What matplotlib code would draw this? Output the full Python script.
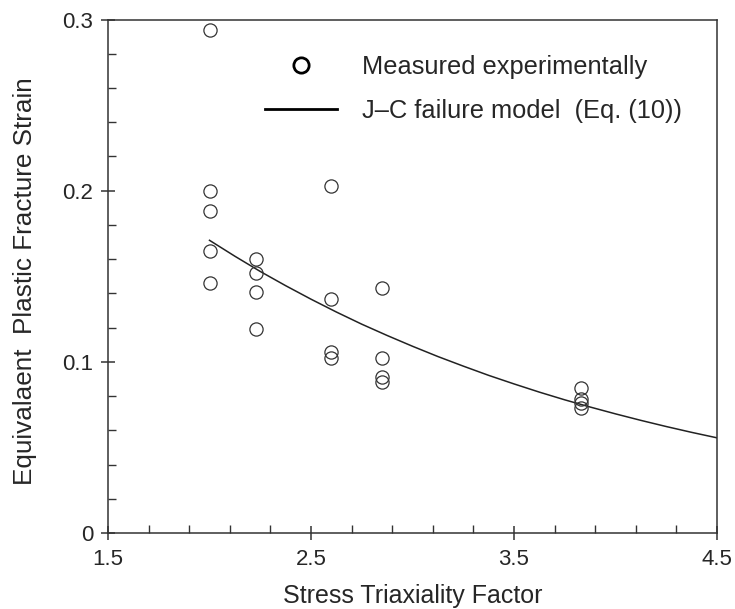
import matplotlib
matplotlib.use("Agg")
import matplotlib.pyplot as plt
from matplotlib.lines import Line2D
from matplotlib.ticker import MultipleLocator

# Measured data (stress triaxiality, fracture strain)
meas_x = [2.0, 2.0, 2.0, 2.0, 2.0,
          2.23, 2.23, 2.23, 2.23,
          2.6, 2.6, 2.6, 2.6,
          2.85, 2.85, 2.85, 2.85,
          3.83, 3.83, 3.83, 3.83]
meas_y = [0.294, 0.200, 0.188, 0.165, 0.146,
          0.160, 0.152, 0.141, 0.119,
          0.203, 0.137, 0.106, 0.102,
          0.143, 0.102, 0.091, 0.088,
          0.085, 0.078, 0.076, 0.073]

# J-C failure model curve
model_x = [2.0, 2.125, 2.25, 2.375, 2.5, 2.625, 2.75, 2.875, 3.0, 3.125, 3.25,
           3.375, 3.5, 3.625, 3.75, 3.875, 4.0, 4.125, 4.25, 4.375, 4.5]
model_y = [0.171, 0.1617, 0.1528, 0.1445, 0.1366, 0.1291, 0.1220, 0.1154, 0.1091,
           0.1031, 0.0975, 0.0921, 0.0871, 0.0823, 0.0778, 0.0736, 0.0696, 0.0658,
           0.0622, 0.0588, 0.0556]

x_ticks = [1.5, 2.5, 3.5, 4.5]
x_minor = [1.7, 1.9, 2.1, 2.3, 2.7, 2.9, 3.1, 3.3, 3.7, 3.9, 4.1, 4.3]
y_ticks = [0, 0.1, 0.2, 0.3]
y_ticklabels = ["0", "0.1", "0.2", "0.3"]

plt.rcParams['font.family'] = ['Liberation Sans', 'DejaVu Sans']
TXT = '#262626'
AX = '#333333'

fig = plt.figure(figsize=(7.35, 6.09), dpi=100)
ax = fig.add_axes([108/735, 1-533/609, (717-108)/735, (533-19.5)/609])

ax.plot(model_x, model_y, color='#222222', lw=1.1)
ax.plot(meas_x, meas_y, linestyle='none', marker='o', ms=9.5, mfc='none',
        mec='#333333', mew=0.9)

ax.set_xlim(1.5, 4.5)
ax.set_ylim(0, 0.3)
ax.set_xticks(x_ticks)
ax.set_xticklabels([str(v) for v in x_ticks])
ax.set_yticks(y_ticks)
ax.set_yticklabels(y_ticklabels)
ax.set_xticks(x_minor, minor=True)
ax.yaxis.set_minor_locator(MultipleLocator(0.02))

ax.tick_params(which='major', direction='inout', length=9.5, width=1.1, color=AX,
               labelsize=16, labelcolor=TXT)
ax.tick_params(axis='x', which='major', pad=7)
ax.tick_params(axis='y', which='major', pad=6)
ax.tick_params(which='minor', direction='in', length=5.5, width=1.0, color=AX)
ax.tick_params(top=False, right=False, which='both')
for s in ax.spines.values():
    s.set_color(AX)
    s.set_linewidth(1.1)

ax.set_xlabel("Stress Triaxiality Factor", fontsize=18, color=TXT)
ax.xaxis.set_label_coords(0.5, -0.1)
ax.xaxis.label.set_va('top')
ax.set_ylabel("Equivalaent  Plastic Fracture Strain", fontsize=18.8, color=TXT)
ax.yaxis.set_label_coords(-0.117, 0.49)

h1 = Line2D([], [], linestyle='none', marker='o', ms=11, mfc='none', mec='black', mew=2)
h2 = Line2D([], [], color='black', lw=2)
leg = ax.legend([h1, h2], ["Measured experimentally", "J\u2013C failure model  (Eq. (10))"],
                loc='upper left', bbox_to_anchor=(265/735, 1-55/609),
                bbox_transform=fig.transFigure, frameon=False, fontsize=18.3,
                handlelength=2.85, handletextpad=0.95, labelspacing=0.78,
                borderpad=0, borderaxespad=0)
for t in leg.get_texts():
    t.set_color(TXT)

fig.savefig("out.png", dpi=100)
